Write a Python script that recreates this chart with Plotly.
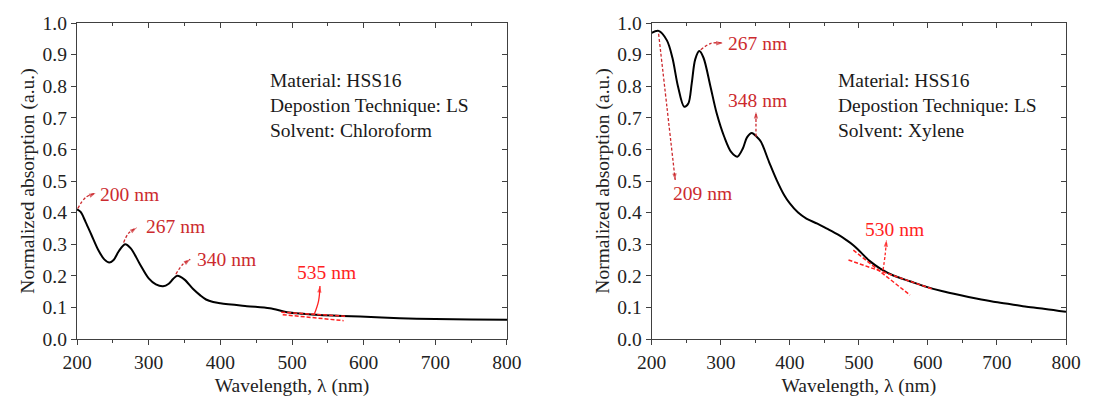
import plotly.graph_objects as go

# ---------------- data ----------------
wl_chloro = [200, 205, 212, 220, 230, 238, 245, 251, 258, 267, 275, 287, 300, 310, 320, 328,
             334, 340, 350, 362, 372, 380, 390, 400, 437, 469, 493, 515, 539, 570, 595, 650,
             700, 750, 800]
abs_chloro = [0.410, 0.402, 0.370, 0.330, 0.280, 0.252, 0.242, 0.250, 0.277, 0.300, 0.287, 0.240,
              0.192, 0.173, 0.167, 0.175, 0.190, 0.200, 0.188, 0.158, 0.138, 0.125, 0.117, 0.113,
              0.104, 0.097, 0.085, 0.080, 0.076, 0.073, 0.071, 0.066, 0.063, 0.062, 0.061]

wl_xylene = [200, 210, 222, 230, 238, 247, 253, 258, 263, 269, 275, 285, 294, 305, 315, 324,
             332, 338, 345, 352, 358, 370, 381, 392, 400, 412, 424, 440, 453, 470, 482, 492,
             502, 515, 531, 550, 575, 598, 620, 646, 670, 695, 720, 743, 770, 800]
abs_xylene = [0.969, 0.975, 0.945, 0.890, 0.800, 0.735, 0.745, 0.810, 0.885, 0.911, 0.890, 0.800,
              0.715, 0.640, 0.592, 0.577, 0.603, 0.638, 0.652, 0.640, 0.625, 0.560, 0.503, 0.455,
              0.429, 0.400, 0.381, 0.365, 0.350, 0.330, 0.313, 0.297, 0.276, 0.248, 0.223, 0.201,
              0.182, 0.165, 0.152, 0.139, 0.128, 0.118, 0.110, 0.102, 0.095, 0.086]

x_ticks = [200, 300, 400, 500, 600, 700, 800]
y_ticks = [0.0, 0.1, 0.2, 0.3, 0.4, 0.5, 0.6, 0.7, 0.8, 0.9, 1.0]

info_left = ["Material: HSS16", "Depostion Technique: LS", "Solvent: Chloroform"]
info_right = ["Material: HSS16", "Depostion Technique: LS", "Solvent: Xylene"]

# peak labels: (text, text_x, text_y, arrow_x, arrow_y, colour, dashed)
DARK = "#cc2a2e"
BRIGHT = "#ff2222"
labels_left = [
    ("200 nm", 229, 0.457, [201, 212, 226], [0.413, 0.448, 0.462], DARK, True),
    ("267 nm", 293, 0.355, [265, 272, 283], [0.305, 0.335, 0.352], DARK, True),
    ("340 nm", 364, 0.252, [338, 347, 358], [0.205, 0.235, 0.252], DARK, True),
    ("535 nm", 504, 0.210, [531, 537, 539], [0.078, 0.120, 0.168], BRIGHT, False),
]
tangents_left = [([485, 575], [0.085, 0.072]), ([487, 572], [0.077, 0.058])]

labels_right = [
    ("209 nm", 228, 0.460, [210, 222, 234], [0.966, 0.735, 0.503], DARK, True),
    ("267 nm", 308, 0.935, [271, 285, 303], [0.915, 0.935, 0.937], DARK, True),
    ("348 nm", 308, 0.755, [351, 351, 351], [0.640, 0.680, 0.719], DARK, True),
    ("530 nm", 506, 0.345, [535, 538, 540], [0.218, 0.265, 0.313], BRIGHT, True),
]
tangents_right = [([485, 608], [0.250, 0.157]), ([492, 574], [0.281, 0.139])]

FONT = "Liberation Serif, Times New Roman, serif"
AX = "#404040"
FS = 19.5

fig = go.Figure()

def add_panel(wl, ab, labels, tangents, info, xa, ya, xo, yo):
    fig.add_trace(go.Scatter(x=wl, y=ab, mode="lines", xaxis=xa, yaxis=ya,
                             line=dict(color="black", width=2, shape="spline", smoothing=0.9),
                             showlegend=False, hoverinfo="skip"))
    fig.add_trace(go.Scatter(x=[], y=[], xaxis=xo, yaxis=yo, showlegend=False))
    for tx, ty in tangents:
        fig.add_trace(go.Scatter(x=tx, y=ty, mode="lines", xaxis=xa, yaxis=ya,
                                 line=dict(color=BRIGHT, width=1.5, dash="4px,2px"),
                                 showlegend=False, hoverinfo="skip"))
    for text, lx, ly, axs, ays, col, dashed in labels:
        n = len(axs)
        fig.add_trace(go.Scatter(x=axs, y=ays, mode="lines+markers", xaxis=xa, yaxis=ya,
                                 line=dict(color=col, width=1.3, dash="3px,2px" if dashed else "solid",
                                           shape="spline"),
                                 marker=dict(symbol="arrow", size=[0] * (n - 1) + [7], color=col,
                                             angleref="previous", line=dict(width=0)),
                                 showlegend=False, hoverinfo="skip"))
        fig.add_annotation(x=lx, y=ly, xref=xa, yref=ya, text=text, showarrow=False,
                           xanchor="left", yanchor="middle",
                           font=dict(family=FONT, size=FS, color=col))
    for i, line in enumerate(info):
        fig.add_annotation(x=467, y=0.819 - i * 0.079, xref=xa, yref=ya, text=line,
                           showarrow=False, xanchor="left", yanchor="middle",
                           font=dict(family=FONT, size=FS, color="#1a1a1a"))

add_panel(wl_chloro, abs_chloro, labels_left, tangents_left, info_left, "x", "y", "x3", "y3")
add_panel(wl_xylene, abs_xylene, labels_right, tangents_right, info_right, "x2", "y2", "x4", "y4")

tickfont = dict(family=FONT, size=FS, color="#222")
titlefont = dict(family=FONT, size=FS, color="#222")

def xaxis(domain, anchor, main=True, overlay=None):
    d = dict(domain=domain, range=[200, 800], tickvals=x_ticks, showgrid=False, zeroline=False,
             showline=True, linecolor=AX, linewidth=1.3, tickcolor=AX, tickwidth=1.3, ticklen=5,
             minor=dict(dtick=50, tick0=200, ticklen=3, tickcolor=AX, tickwidth=1.3,
                        ticks="outside" if main else "inside"),
             anchor=anchor, fixedrange=True)
    if main:
        d.update(ticks="outside", tickfont=tickfont,
                 title=dict(text="Wavelength, λ (nm)", font=titlefont, standoff=6))
    else:
        d.update(ticks="inside", side="top", overlaying=overlay, showticklabels=False)
    return d

def yaxis(anchor, main=True, overlay=None):
    d = dict(domain=[0, 1], range=[0, 1], tickvals=y_ticks, tickformat=".1f", showgrid=False,
             zeroline=False, showline=True, linecolor=AX, linewidth=1.3, tickcolor=AX,
             tickwidth=1.3, ticklen=5, anchor=anchor, fixedrange=True)
    if main:
        d.update(ticks="outside", tickfont=tickfont,
                 title=dict(text="Normalized absorption (a.u.)", font=titlefont, standoff=2))
    else:
        d.update(ticks="inside", side="right", overlaying=overlay, showticklabels=False)
    return d

# the page has an 8px body margin, so the figure sits at (8, 8)
L = [0.0626, 0.4524]
R = [0.5836, 0.9592]
fig.update_layout(
    width=1103, height=396,
    margin=dict(l=0, r=0, t=15, b=65, autoexpand=False),
    paper_bgcolor="white", plot_bgcolor="white",
    xaxis=xaxis(L, "y"),
    yaxis=yaxis("x"),
    xaxis3=xaxis(L, "y", main=False, overlay="x"),
    yaxis3=yaxis("x", main=False, overlay="y"),
    xaxis2=xaxis(R, "y2"),
    yaxis2=yaxis("x2"),
    xaxis4=xaxis(R, "y2", main=False, overlay="x2"),
    yaxis4=yaxis("x2", main=False, overlay="y2"),
    font=dict(family=FONT),
)

fig.write_html("out.html")
